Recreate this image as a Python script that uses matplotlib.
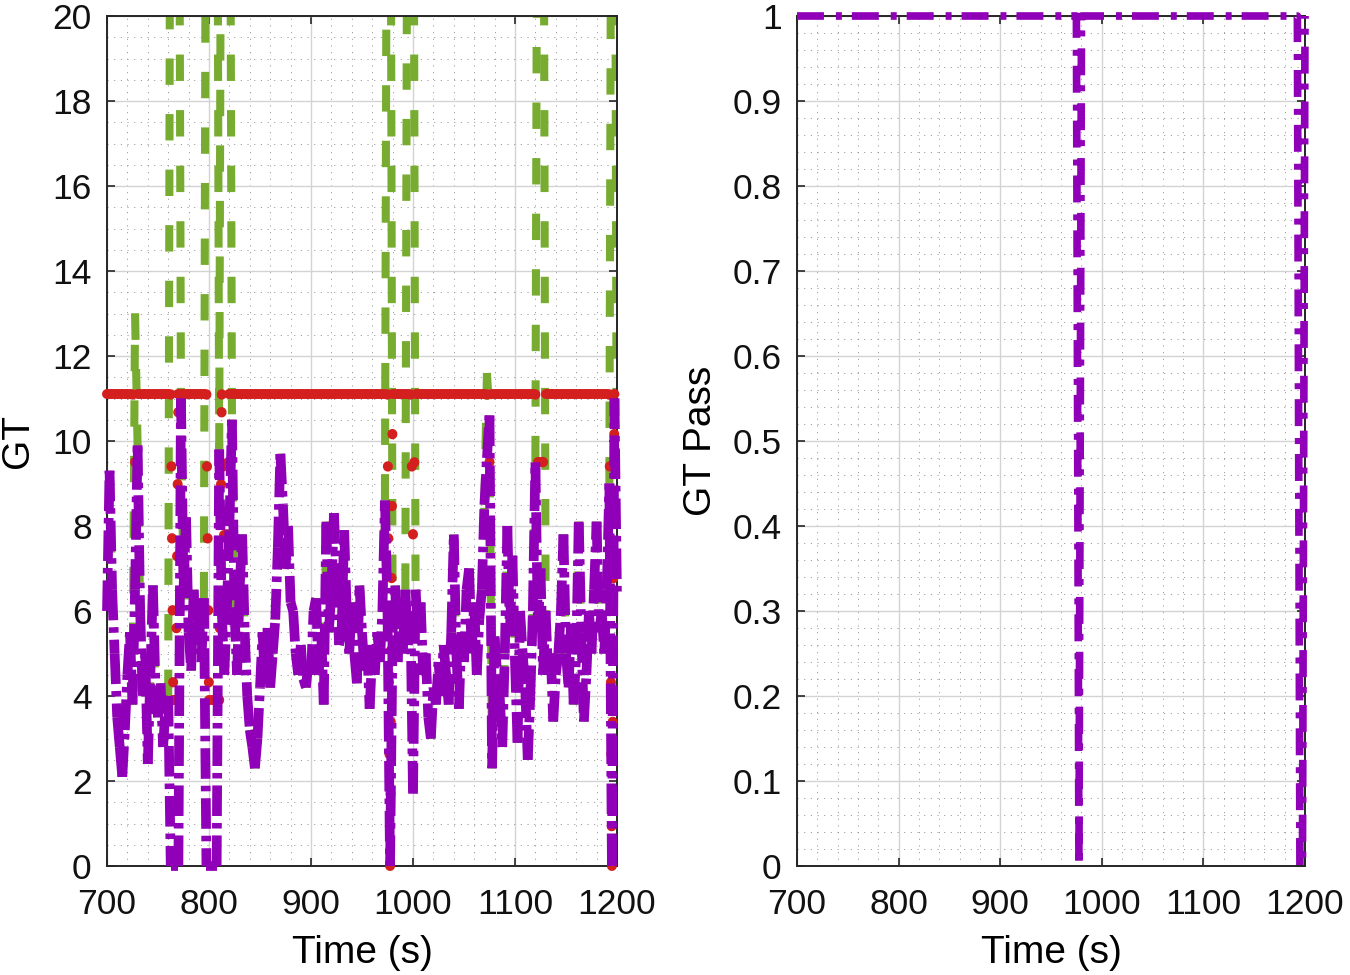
import numpy as np
import matplotlib
matplotlib.use("Agg")
import matplotlib.pyplot as plt
from matplotlib.collections import LineCollection
from matplotlib.ticker import MultipleLocator, FuncFormatter

plt.rcParams['font.family'] = ['Liberation Sans', 'DejaVu Sans']
plt.rcParams['font.size'] = 25.5
plt.rcParams['lines.scale_dashes'] = False  # dash lengths below are in points

gt = [
    6.0, 9.3, 6.5, 5.0, 3.5, 2.8, 2.1, 3.2, 4.5, 5.5,
    3.8, 6.5, 9.9, 6.0, 4.0, 5.0, 2.4, 4.5, 6.6, 4.2,
    3.5, 4.3, 2.8, 3.8, 4.0, 0.0, 0.0, 0.0, 0.0, 11.0,
    6.5, 8.2, 5.5, 4.6, 6.5, 5.2, 6.0, 4.8, 6.3, 0.0,
    0.0, 0.0, 0.0, 0.0, 9.8, 6.0, 4.5, 6.0, 8.0, 10.5,
    6.0, 4.5, 6.5, 7.8, 5.5, 4.0, 3.2, 2.8, 2.3, 3.0,
    4.2, 5.5, 4.3, 5.6, 4.2, 5.0, 5.8, 7.5, 9.7, 8.5,
    7.0, 8.0, 6.2, 6.0, 5.0, 4.5, 5.2, 4.4, 4.2, 4.8,
    4.5, 6.0, 6.3, 4.5, 5.5, 3.8, 8.1, 5.5, 6.5, 8.3,
    6.8, 5.2, 5.5, 7.9, 6.0, 5.0, 6.2, 5.0, 4.3, 6.6,
    5.5, 4.6, 5.2, 3.7, 5.0, 4.5, 5.5, 4.8, 6.0, 8.6,
    6.0, 0.0, 5.5, 6.6, 4.8, 6.3, 5.0, 6.5, 5.2, 6.0,
    1.7, 6.5, 5.5, 6.2, 4.5, 5.0, 3.5, 3.0, 4.2, 3.8,
    4.8, 4.0, 5.2, 4.5, 3.8, 5.5, 7.8, 5.0, 3.7, 5.5,
    4.8, 6.5, 7.0, 5.0, 6.2, 4.5, 5.8, 6.5, 8.5, 9.6,
    10.6, 2.3, 5.4, 4.5, 4.0, 2.8, 5.0, 8.0, 5.5, 7.3,
    4.8, 2.9, 6.0, 5.0, 4.2, 2.5, 4.0, 6.0, 9.5, 5.5,
    7.0, 4.5, 6.0, 4.5, 5.0, 3.4, 4.5, 5.0, 6.0, 7.8,
    5.0, 4.2, 5.7, 3.8, 5.0, 8.1, 5.5, 3.4, 4.5, 6.0,
    5.0, 6.5, 8.1, 5.5, 6.0, 5.0, 6.5, 9.0, 0.0, 11.0,
    6.3,
]
time = 700 + 2.5 * np.arange(len(gt))

# raw GT: same as gt except where it shoots up (off scale) or peaks higher
raw_t = [727.5, 762.5, 765, 767.5, 770, 797.5, 800, 802.5, 805, 807.5,
         812.5, 815, 817.5, 820, 975, 977.5, 995, 997.5, 1000,
         1072.5, 1122.5, 1125, 1127.5, 1195, 1197.5]
raw_v = [13.0, 30, 30, 30, 30, 30, 30, 30, 30, 30,
         30, 30, 30, 30, 30, 30, 30, 30, 30,
         11.6, 30, 30, 30, 30, 30]

# threshold: 11.1 except at these samples
thr_base = 11.1
thr_t = [727.5, 765, 767.5, 800, 802.5, 805, 807.5, 810, 815, 817.5,
         977.5, 1000, 1075, 1122.5, 1125, 1127.5, 1195]
thr_v = [9.5, 3.9, 3.9, 3.9, 3.9, 3.9, 3.9, 3.9, 7.8, 7.8,
         0.0, 7.8, 9.5, 9.5, 9.5, 9.5, 0.0]

# GT pass flag: 1 except at these samples
pass_drop_t = [977.5, 1195, 1197.5]

gt = np.array(gt)
gt_raw = gt.copy()
for tt, vv in zip(raw_t, raw_v):
    gt_raw[np.isclose(time, tt)] = vv
thr = np.full(len(time), thr_base)
for tt, vv in zip(thr_t, thr_v):
    thr[np.isclose(time, tt)] = vv
gt_pass = np.ones(len(time))
for tt in pass_drop_t:
    gt_pass[np.isclose(time, tt)] = 0.0

GREEN = '#77ac30'
PURPLE = '#9000b8'
RED = '#d41f1f'
AX_COL = '#262626'


def seg_plot(ax, x, y, color, lw, dashes, cap, z, clip=True):
    # every segment restarts its own dash pattern
    pts = np.column_stack([x, y])
    segs = np.stack([pts[:-1], pts[1:]], axis=1)
    lc = LineCollection(segs, colors=color, linewidths=lw,
                        linestyles=[(0, dashes)], capstyle=cap, zorder=z)
    lc.set_clip_on(clip)
    ax.add_collection(lc)


def style_axes(ax, ymax, ymajor, yminor):
    ax.set_xlim(700, 1200)
    ax.set_ylim(0, ymax)
    ax.xaxis.set_major_locator(MultipleLocator(100))
    ax.xaxis.set_minor_locator(MultipleLocator(20))
    ax.yaxis.set_major_locator(MultipleLocator(ymajor))
    ax.yaxis.set_minor_locator(MultipleLocator(yminor))
    ax.yaxis.set_major_formatter(FuncFormatter(lambda v, p: f"{v:g}"))
    ax.grid(True, which='major', color='#d3d3d3', lw=1.0, zorder=0)
    ax.grid(True, which='minor', color='#9a9a9a', lw=0.7,
            linestyle=(0, (0.8, 4)), zorder=0)
    ax.set_axisbelow(True)
    ax.tick_params(which='major', direction='in', top=True, right=True,
                   length=6, width=1.2, color=AX_COL, labelcolor='#111111')
    ax.tick_params(axis='y', which='major', pad=11)
    ax.tick_params(axis='x', which='major', pad=16)
    ax.tick_params(which='minor', length=0)
    for s in ax.spines.values():
        s.set_color(AX_COL)
        s.set_linewidth(1.4)
    ax.set_xlabel('Time (s)', fontsize=28, labelpad=10)


fig = plt.figure(figsize=(13.5, 9.75), dpi=100)
ax1 = fig.add_axes([107 / 1350, 109 / 975, 510 / 1350, 850 / 975])
ax2 = fig.add_axes([797 / 1350, 109 / 975, 508 / 1350, 850 / 975])

# left: raw GT, threshold, GT
seg_plot(ax1, time, gt_raw, GREEN, 5.8, (19, 21), 'butt', 2)
seg_plot(ax1, time, thr, RED, 7.2, (0.3, 51.5), 'round', 3, clip=False)
seg_plot(ax1, time, gt, PURPLE, 7.0, (22, 5, 4, 5), 'butt', 4, clip=False)
style_axes(ax1, 20, 2, 0.5)
ax1.set_ylabel('GT', fontsize=28, labelpad=12)

# right: GT pass flag
ax2.plot(time, gt_pass, color=PURPLE, lw=5.5,
         linestyle=(0, (19.4, 8.6, 4.3, 7.2)), dash_capstyle='butt',
         clip_on=False, zorder=3)
style_axes(ax2, 1, 0.1, 0.02)
ax2.set_ylabel('GT Pass', fontsize=28, labelpad=10)

fig.savefig('out.png', dpi=100)
